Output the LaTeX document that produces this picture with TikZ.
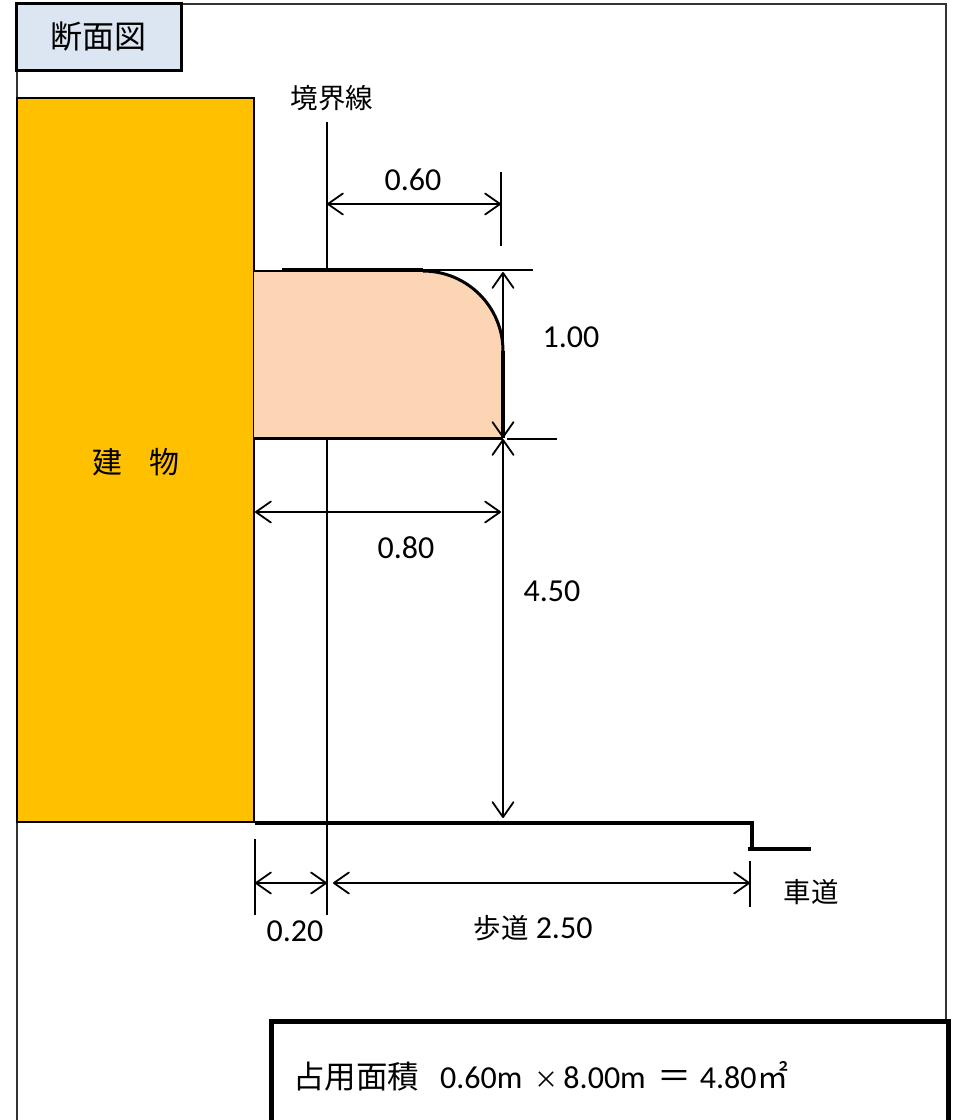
\documentclass[tikz,border=0pt]{standalone}
\usepackage{fontspec}
\setmainfont{Carlito}
\newfontfamily\cjk{Noto Sans CJK JP}
\usetikzlibrary{positioning,calc,arrows.meta}

\begin{document}
\begin{tikzpicture}[x=1pt,y=-1pt]
	% 定义样式
	\tikzstyle{frame} = [draw=black!80, line width=1.5pt]
	\tikzstyle{titlebox} = [rectangle, draw=black, line width=3pt, minimum width=165pt, minimum height=67pt, inner sep=0pt, font=\cjk\fontsize{32}{36}\selectfont]
	\tikzstyle{building} = [rectangle, draw=black, line width=2.2pt, minimum width=237pt, minimum height=724pt, inner sep=0pt]
	\tikzstyle{sumbox} = [rectangle, draw=black, line width=5pt, fill=white, minimum width=677pt, minimum height=130pt, inner sep=0pt]
	\tikzstyle{dim} = [line width=1.8pt, <->, >={Straight Barb[length=15pt,width=21pt,round]}]
	\tikzstyle{tick} = [line width=1.8pt]
	\tikzstyle{num} = [inner sep=0pt, font=\fontsize{32}{36}\selectfont]
	\tikzstyle{jp} = [inner sep=0pt, font=\cjk\fontsize{27.5}{32}\selectfont]
	\useasboundingbox (0,0) rectangle (955,1120);
	\begin{scope}
	\clip (0,0) rectangle (955,1120);
	\definecolor{buildcol}{RGB}{255,192,0}
	\definecolor{awningcol}{RGB}{252,213,181}
	\definecolor{titlecol}{RGB}{220,230,242}
	% 外框
	\coordinate (fa) at (17,4);
	\coordinate (fb) at (946,4);
	\coordinate (fc) at (946,1021);
	\coordinate (fd) at (17,1120);
	\draw [frame] (fd) -- (fa) -- (fb) -- (fc);
	% 境界線
	\coordinate (bl1) at (327,122);
	\coordinate (bl2) at (327,915);
	\draw [tick] (bl1) -- (bl2);
	% 建物 庇
	\node (bldg) [building, fill=buildcol] at (135.5,460) {};
	\node (bldgtext) [jp, font=\cjk\fontsize{30}{34}\selectfont] at (136,462) {建\hspace{0.9em}物};
	\path [fill=awningcol] (254,271) -- (423,271) arc (-90:0:80) -- (503,438.5) -- (254,438.5) -- cycle;
	\draw [line width=1.5pt] (254,271) -- (283,271);
	\draw [line width=3pt] (423,271) arc (-90:0:80);
	\draw [line width=2.5pt] (254,438.5) -- (503,438.5);
	\coordinate (eave1) at (503,351);
	\coordinate (eave2) at (503,438);
	\draw [line width=3.5pt] (eave1) -- (eave2);
	\node (title) [titlebox, fill=titlecol] at (98.5,36.5) {断面図};
	\node (bltext) [jp] at (332,98) {境界線};
	% 寸法
	\coordinate (topl) at (282,270);
	\coordinate (topm) at (423,270);
	\coordinate (topr) at (533,270);
	\draw [line width=3.5pt] (topl) -- (topm);
	\draw [line width=2.2pt] (topm) -- (topr);
	\coordinate (t1) at (501,172);
	\coordinate (t2) at (501,246);
	\draw [tick] (t1) -- (t2);
	\coordinate (a60l) at (327,204);
	\coordinate (a60r) at (501,204);
	\draw [dim] (a60l) -- (a60r);
	\node (n60) [num] at (413,180) {0.60};
	\coordinate (a100t) at (503,272);
	\coordinate (a100b) at (503,438);
	\draw [dim] (a100t) -- (a100b);
	\node (n100) [num] at (571,337) {1.00};
	\coordinate (t3) at (507,439);
	\coordinate (t4) at (557,439);
	\draw [tick] (t3) -- (t4);
	\coordinate (a80l) at (255,512);
	\coordinate (a80r) at (501,512);
	\draw [dim] (a80l) -- (a80r);
	\node (n80) [num] at (406,548) {0.80};
	\coordinate (a450t) at (503,439);
	\coordinate (a450b) at (503,818);
	\draw [dim] (a450t) -- (a450b);
	\node (n450) [num] at (552,591) {4.50};
	% 歩道 車道
	\coordinate (g1) at (255,823);
	\coordinate (g2) at (752,823);
	\coordinate (g3) at (752,849);
	\coordinate (g4) at (748,849);
	\coordinate (g5) at (811,849);
	\draw [line width=4pt] (g1) -- (g2) -- (g3);
	\draw [line width=4pt] (g4) -- (g5);
	\coordinate (t5) at (255,839);
	\coordinate (t6) at (255,915);
	\draw [tick] (t5) -- (t6);
	\coordinate (t7) at (750,861);
	\coordinate (t8) at (750,907);
	\draw [tick] (t7) -- (t8);
	\coordinate (a20l) at (255,883);
	\coordinate (a20r) at (327,883);
	\draw [dim] (a20l) -- (a20r);
	\coordinate (a250l) at (333,883);
	\coordinate (a250r) at (750,883);
	\draw [dim] (a250l) -- (a250r);
	\node (n20) [num] at (295,931) {0.20};
	\node (n250) [num] at (533,928) {{\cjk\fontsize{27.5}{32}\selectfont 歩道} 2.50};
	\node (road) [jp] at (811,892) {車道};
	% 面積
	\node (area) [sumbox] at (609.5,1086) {};
	\node (atext) [anchor=west, inner sep=0pt, font=\fontsize{32}{36}\selectfont] at (293,1076) {{\cjk\fontsize{31.5}{36}\selectfont 占用面積}\hspace{21pt}0.60m\hspace{12pt}{\cjk\fontsize{24}{36}\selectfont ×}\hspace{5pt}8.00m\hspace{12pt}{\cjk\fontsize{34}{36}\selectfont ＝}\hspace{8pt}4.80\hspace{1pt}{\cjk\fontsize{31}{36}\selectfont ㎡}};
	\end{scope}
\end{tikzpicture}
\end{document}
